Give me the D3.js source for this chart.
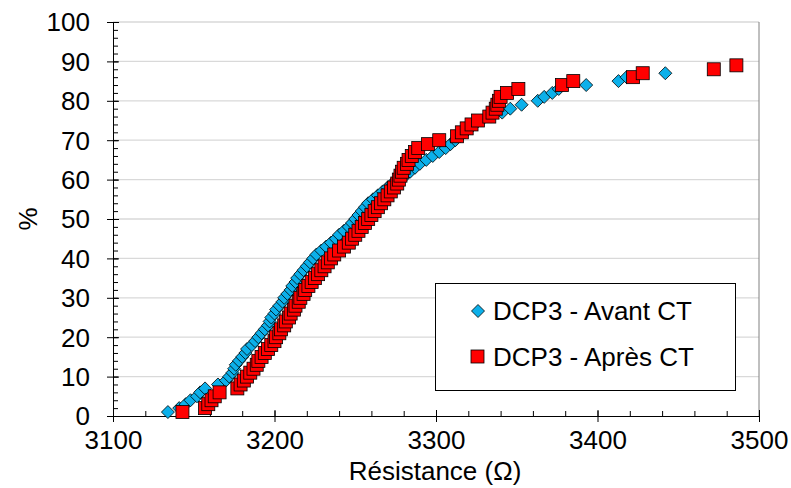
<!DOCTYPE html>
<html><head><meta charset="utf-8">
<script src="https://cdn.jsdelivr.net/npm/d3@7"></script>
<style>body{margin:0;background:#fff}svg{display:block;font-family:Arial,"Liberation Sans",sans-serif}</style>
</head><body><svg id="c" width="791" height="488"></svg>
<script>
const xTicks = [3100, 3200, 3300, 3400, 3500];
const yTicks = [0, 10, 20, 30, 40, 50, 60, 70, 80, 90, 100];
const seriesNames = ["DCP3 - Avant CT", "DCP3 - Après CT"];
const avantCT = [3134,3141,3145,3148,3152,3154,3157,3165,3170,3172,3174,3175,3176,3178,3180,3182,3183,3186,3188,3190,
 3192,3194,3196,3197,3198,3200,3201,3203,3205,3206,3208,3210,3211,3213,3214,3216,3218,3220,3222,3224,
 3226,3229,3232,3235,3238,3240,3243,3246,3248,3250,3252,3254,3256,3258,3261,3264,3267,3270,3273,3276,
 3281,3284,3287,3290,3294,3298,3302,3306,3309,3312,3315,3318,3321,3324,3328,3334,3341,3346,3353,3363,
 3367,3372,3376,3393,3413,3418,3442];
const apresCT = [3143,3157,3159,3161,3163,3166,3177,3179,3181,3183,3185,3187,3189,3190,3192,3194,3196,3198,3200,3201,
 3203,3204,3206,3207,3209,3210,3212,3213,3215,3216,3218,3219,3221,3223,3225,3227,3229,3231,3233,3235,
 3237,3240,3243,3246,3248,3250,3252,3254,3256,3258,3260,3262,3264,3266,3268,3270,3272,3274,3276,3277,
 3278,3279,3280,3282,3283,3285,3287,3289,3295,3302,3313,3316,3319,3322,3326,3333,3335,3337,3338,3339,
 3340,3344,3351,3378,3385,3422,3428,3472,3486];
// cumulative percentage of each point (1 % per sample)
const avantPct = avantCT.map((v, i) => i + 1);
const apresPct = apresCT.map((v, i) => i + 1);

const svg = d3.select("#c");
const L = 113, R = 759, T = 22, B = 416;
const x = d3.scaleLinear().domain([3100, 3500]).range([L, R]);
const y = d3.scaleLinear().domain([0, 100]).range([B, T]);
const FF = "Arial, 'Liberation Sans', sans-serif";

// gridlines
svg.append("g").selectAll("line").data(yTicks.filter(d => d > 0)).join("line")
  .attr("x1", L).attr("x2", R).attr("y1", d => y(d)).attr("y2", d => y(d))
  .attr("stroke", "#d9d9d9").attr("stroke-width", 1.3);
// right border
svg.append("line").attr("x1", R).attr("x2", R).attr("y1", T).attr("y2", B)
  .attr("stroke", "#808080").attr("stroke-width", 1);

// axes
const fs = "26px";
const yAxisMinor = d3.axisRight(y).tickValues(d3.range(0, 101, 2)).tickSize(5).tickFormat("");
svg.append("g").attr("transform", `translate(${L},0)`).call(yAxisMinor)
  .call(g => g.select(".domain").remove()).selectAll("line").attr("stroke", "#000");
const yAxis = d3.axisLeft(y).tickValues(yTicks).tickSizeInner(6).tickSizeOuter(0).tickPadding(17);
const gy = svg.append("g").attr("transform", `translate(${L},0)`).call(yAxis);
gy.selectAll(".tick line").attr("x2", 6).attr("x1", -6).attr("stroke", "#000");
gy.select(".domain").attr("stroke", "#000");
gy.selectAll("text").attr("font-size", fs).attr("fill", "#000").attr("font-family", FF).attr("dy", "0.34em");

const xAxisMinor = d3.axisTop(x).tickValues(d3.range(3100, 3501, 20)).tickSize(5).tickFormat("");
svg.append("g").attr("transform", `translate(0,${B})`).call(xAxisMinor)
  .call(g => g.select(".domain").remove()).selectAll("line").attr("stroke", "#000");
const xAxis = d3.axisBottom(x).tickValues(xTicks).tickSizeInner(6).tickSizeOuter(0).tickPadding(9).tickFormat(d3.format("d"));
const gx = svg.append("g").attr("transform", `translate(0,${B})`).call(xAxis);
gx.selectAll(".tick line").attr("y1", -6).attr("y2", 6).attr("stroke", "#000");
gx.select(".domain").attr("stroke", "#000");
gx.selectAll("text").attr("font-size", fs).attr("fill", "#000").attr("font-family", FF).attr("dy", "0.68em");

// axis titles
svg.append("text").attr("x", 435).attr("y", 480).attr("text-anchor", "middle")
  .attr("font-size", fs).text("Résistance (Ω)");
svg.append("text").attr("transform", `translate(37,${(T + B) / 2}) rotate(-90)`).attr("text-anchor", "middle")
  .attr("font-size", fs).text("%");

// markers
const diamond = s => `M0,${-s}L${s},0L0,${s}L${-s},0Z`;
const blue = "#0cb0ea", red = "#ff0000";
svg.append("g").selectAll("path").data(avantCT.map((v, i) => [v, avantPct[i]])).join("path")
  .attr("d", diamond(6.5)).attr("transform", d => `translate(${x(d[0])},${y(d[1])})`)
  .attr("fill", blue).attr("stroke", "#000").attr("stroke-width", 0.8);
svg.append("g").selectAll("rect").data(apresCT.map((v, i) => [v, apresPct[i]])).join("rect")
  .attr("x", d => x(d[0]) - 6.5).attr("y", d => y(d[1]) - 6.5).attr("width", 13).attr("height", 13)
  .attr("fill", red).attr("stroke", "#000").attr("stroke-width", 0.8);

// legend
const lg = svg.append("g");
lg.append("rect").attr("x", 435.5).attr("y", 283.5).attr("width", 300).attr("height", 107)
  .attr("fill", "#fff").attr("stroke", "#000").attr("stroke-width", 1);
lg.append("path").attr("d", diamond(6.5)).attr("transform", "translate(478,311)")
  .attr("fill", blue).attr("stroke", "#000").attr("stroke-width", 0.8);
lg.append("rect").attr("x", 471).attr("y", 350).attr("width", 13).attr("height", 13)
  .attr("fill", red).attr("stroke", "#000").attr("stroke-width", 0.8);
lg.append("text").attr("x", 493).attr("y", 320).attr("font-size", fs).text(seriesNames[0]);
lg.append("text").attr("x", 493).attr("y", 366).attr("font-size", fs).text(seriesNames[1]);
</script></body></html>
